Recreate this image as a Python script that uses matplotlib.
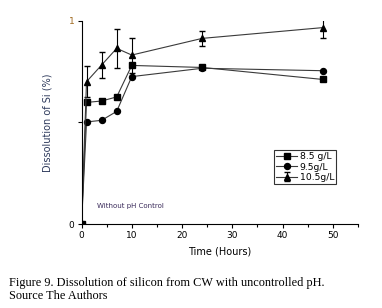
import matplotlib.pyplot as plt

time_h = [0, 1, 4, 7, 10, 24, 48]
si_85 = [0, 0.598, 0.605, 0.625, 0.780, 0.770, 0.711]
si_95 = [0, 0.502, 0.510, 0.554, 0.725, 0.766, 0.754]
si_105 = [0, 0.700, 0.782, 0.864, 0.831, 0.913, 0.966]
err_105 = [0, 0.075, 0.064, 0.096, 0.086, 0.038, 0.053]

fig = plt.figure(figsize=(3.82, 3.08), dpi=100)
ax = fig.add_axes([81.5 / 382, 1 - 224 / 308, (358 - 81.5) / 382, (224 - 20.7) / 308])

line_c = "#3a3a3a"
ax.plot(time_h, si_85, color=line_c, lw=0.8, marker="s", ms=4.3, mfc="black", mec="black", label="8.5 g/L")
ax.plot(time_h, si_95, color=line_c, lw=0.8, marker="o", ms=4.3, mfc="black", mec="black", label="9.5g/L")
ax.errorbar(time_h, si_105, yerr=err_105, color=line_c, lw=0.8, marker="^", ms=4.8,
            mfc="black", mec="black", ecolor="black", elinewidth=0.8, capsize=2.5, label="10.5g/L")

ax.set_xlim(0, 55)
ax.set_ylim(0, 1)
ax.set_xticks([0, 10, 20, 30, 40, 50])
ax.set_xticks(range(0, 56, 5), minor=True)
ax.set_yticks([0, 0.5, 1])
ax.set_yticklabels(["0", "", "1"])
ax.get_yticklabels()[2].set_color("#a06a20")
ax.spines["top"].set_visible(False)
ax.spines["right"].set_visible(False)
ax.tick_params(labelsize=6.5, length=3, width=0.8, pad=2)
ax.tick_params(which="minor", length=2, width=0.8)

ax.set_xlabel("Time (Hours)", fontsize=7, labelpad=5)
ax.set_ylabel("Dissolution of Si (%)", fontsize=7, color="#2e3a5c", labelpad=12)

ax.text(3, 0.08, "Without pH Control", fontsize=5, color="#3a2a5a")

leg = ax.legend(loc="upper left", bbox_to_anchor=(0.696, 0.365), fontsize=6.7, frameon=True,
                fancybox=False, edgecolor="black", handlelength=2.2, handletextpad=0.3,
                borderpad=0.25, labelspacing=0.15, borderaxespad=0)
leg.get_frame().set_linewidth(0.8)

fig.text(9 / 382, 1 - 283 / 308, "Figure 9. Dissolution of silicon from CW with uncontrolled pH.",
         fontsize=8.8, family="Liberation Serif", va="center")
fig.text(9 / 382, 1 - 296 / 308, "Source The Authors", fontsize=8.8, family="Liberation Serif", va="center")

fig.savefig("out.png", dpi=100)
